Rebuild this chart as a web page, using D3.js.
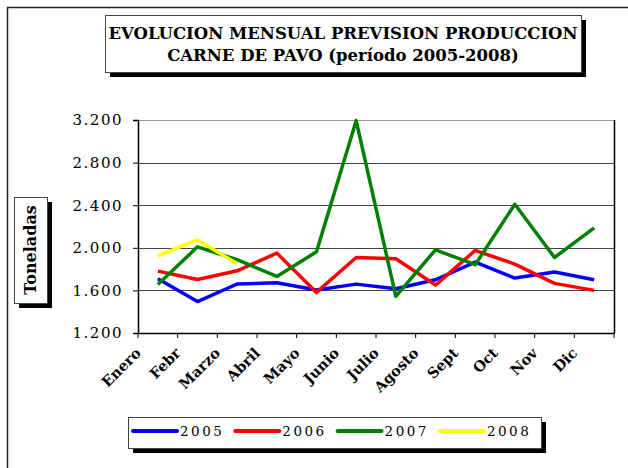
<!DOCTYPE html>
<html>
<head>
<meta charset="utf-8">
<script src="https://cdn.jsdelivr.net/npm/d3@7"></script>
<style>
  body { margin: 0; background: #fff; }
  text { font-family: "DejaVu Serif", serif; }
</style>
</head>
<body>
<div id="chart"></div>
<script>
var months = ['Enero', 'Febr', 'Marzo', 'Abril', 'Mayo', 'Junio', 'Julio', 'Agosto', 'Sept', 'Oct', 'Nov', 'Dic'];
var years = ['2005', '2006', '2007', '2008'];
var colors = ['#0000ff', '#ff0000', '#008000', '#ffff00'];
var v2005 = [1710, 1495, 1660, 1672, 1603, 1659, 1616, 1700, 1866, 1716, 1772, 1700];
var v2006 = [1781, 1703, 1784, 1950, 1581, 1909, 1897, 1650, 1975, 1847, 1666, 1600];
var v2007 = [1656, 2009, 1888, 1731, 1962, 3194, 1544, 1981, 1841, 2409, 1909, 2188];
var v2008 = [1925, 2075, 1850];
var yTicks = [1200, 1600, 2000, 2400, 2800, 3200];

var series = [v2005, v2006, v2007, v2008];

var width = 628,
    height = 468,
    margin = {top: 120, right: 14, bottom: 135, left: 138};

var svg = d3.select('#chart')
  .append('svg')
  .attr('width', width)
  .attr('height', height);

// outer frame
svg.append('rect')
  .attr('x', 7.5).attr('y', 7.5)
  .attr('width', 640).attr('height', 480)
  .attr('fill', 'none').attr('stroke', '#222').attr('stroke-width', 1.5);

var x = d3.scaleBand()
  .domain(months)
  .range([margin.left, width - margin.right]);

var y = d3.scaleLinear()
  .domain([1200, 3200])
  .range([height - margin.bottom, margin.top]);

var fmt = function(d) { return d3.format(',')(d).replace(',', '.'); };

// gridlines
svg.append('g')
  .selectAll('line')
  .data(yTicks.slice(1))
  .enter()
  .append('line')
  .attr('x1', margin.left).attr('x2', width - margin.right)
  .attr('y1', function(d) { return Math.round(y(d)) + 0.5; })
  .attr('y2', function(d) { return Math.round(y(d)) + 0.5; })
  .attr('stroke', function(d) { return d === 3200 ? '#999' : '#444'; })
  .attr('stroke-width', 1);

// right border
svg.append('line')
  .attr('x1', width - margin.right + 0.5).attr('x2', width - margin.right + 0.5)
  .attr('y1', margin.top).attr('y2', height - margin.bottom)
  .attr('stroke', '#000').attr('stroke-width', 1.5);

// y axis
var yAxis = svg.append('g')
  .attr('transform', 'translate(' + margin.left + ',0)')
  .call(d3.axisLeft(y).tickValues(yTicks).tickFormat(fmt).tickSize(5).tickPadding(10));
yAxis.select('.domain').attr('stroke-width', 1.5);
yAxis.selectAll('text')
  .style('font-size', '15px')
  .attr('letter-spacing', 1.5)
  .attr('fill', '#000');

// x axis
var xAxis = svg.append('g')
  .attr('transform', 'translate(0,' + (height - margin.bottom) + ')')
  .call(d3.axisBottom(x).tickSize(0).tickFormat(''));
xAxis.select('.domain').attr('stroke-width', 1.5);
xAxis.selectAll('.tk')
  .data(months.concat(['end']))
  .enter()
  .append('line')
  .attr('class', 'tk')
  .attr('x1', function(d, i) { return margin.left + i * x.step(); })
  .attr('x2', function(d, i) { return margin.left + i * x.step(); })
  .attr('y1', 0).attr('y2', 5)
  .attr('stroke', '#000');

svg.append('g')
  .selectAll('text')
  .data(months)
  .enter()
  .append('text')
  .attr('transform', function(d) {
    var cx = x(d) + x.bandwidth() / 2 - 16;
    return 'translate(' + cx + ',' + (height - margin.bottom + 21) + ') rotate(-45)';
  })
  .attr('text-anchor', 'end')
  .style('font-size', '14.5px')
  .style('font-weight', 'bold')
  .text(function(d) { return d; });

// lines
var line = d3.line()
  .x(function(d, i) { return x(months[i]) + x.bandwidth() / 2; })
  .y(function(d) { return y(d); });

svg.append('g')
  .selectAll('path')
  .data(series)
  .enter()
  .append('path')
  .attr('d', line)
  .attr('fill', 'none')
  .attr('stroke', function(d, i) { return colors[i]; })
  .attr('stroke-width', 3.5)
  .attr('stroke-linejoin', 'round');

// boxes with drop shadow
function shadowBox(x0, y0, w, h) {
  svg.append('rect').attr('x', x0 + 5).attr('y', y0 + 5).attr('width', w).attr('height', h).attr('fill', '#000');
  svg.append('rect').attr('x', x0 + 0.5).attr('y', y0 + 0.5).attr('width', w).attr('height', h)
    .attr('fill', '#fff').attr('stroke', '#444').attr('stroke-width', 1);
}

// title
shadowBox(105, 15, 476, 57);
var title = svg.append('text')
  .attr('text-anchor', 'middle')
  .style('font-weight', 'bold')
  .style('font-size', '16.5px');
title.append('tspan').attr('x', 343).attr('y', 39)
  .text('EVOLUCION MENSUAL PREVISION PRODUCCION');
title.append('tspan').attr('x', 343).attr('y', 61)
  .text('CARNE DE PAVO (período 2005-2008)');

// y title
shadowBox(14, 197, 33, 106);
svg.append('text')
  .attr('transform', 'translate(36,250) rotate(-90)')
  .attr('text-anchor', 'middle')
  .style('font-weight', 'bold')
  .style('font-size', '16px')
  .text('Toneladas');

// legend
shadowBox(128, 417, 413, 31);
var lg = svg.append('g')
  .selectAll('g')
  .data(years)
  .enter()
  .append('g')
  .attr('transform', function(d, i) { return 'translate(' + (133 + i * 102.3) + ',431)'; });
lg.append('line')
  .attr('x1', 0).attr('x2', 44)
  .attr('stroke', function(d, i) { return colors[i]; })
  .attr('stroke-width', 4).attr('stroke-linecap', 'round');
lg.append('text')
  .attr('x', 47).attr('y', 5)
  .style('font-size', '13.5px')
  .attr('letter-spacing', 2.5)
  .text(function(d) { return d; });
</script>
</body>
</html>
